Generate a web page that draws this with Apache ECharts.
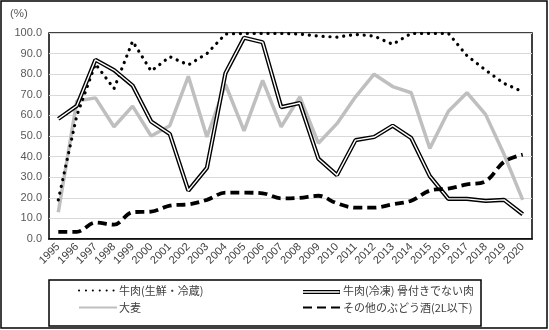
<!DOCTYPE html>
<html>
<head>
<meta charset="utf-8">
<script src="https://cdn.jsdelivr.net/npm/echarts@6/dist/echarts.min.js"></script>
<style>
  html, body { margin: 0; padding: 0; background: #fff; }
  #chart { width: 549px; height: 330px; }
</style>
</head>
<body>
<div id="chart"></div>
<script>
// Years on the category axis
const years = ['1995','1996','1997','1998','1999','2000','2001','2002','2003','2004','2005','2006','2007','2008','2009','2010','2011','2012','2013','2014','2015','2016','2017','2018','2019','2020'];

// Series names
const nameChilled = '牛肉(生鮮・冷蔵)';
const nameFrozen = '牛肉(冷凍) 骨付きでない肉';
const nameBarley = '大麦';
const nameWine = 'その他のぶどう酒(2L以下)';

// Values (%)
const chilledBeef = [19, 60, 85, 73, 96, 81.5, 88.5, 84.5, 90, 99.5, 99.8, 99.8, 99.8, 99.5, 98.5, 98, 99.3, 98.5, 94.5, 99.8, 99.8, 99.8, 89, 82, 75.5, 71.5];
const frozenBeef = [58.3, 64.7, 87, 82, 74.5, 57, 51, 23.5, 34.5, 80.5, 97.7, 95.5, 64, 66, 39, 31, 48, 49.5, 55, 49, 30.5, 19.5, 19.5, 18.5, 19, 12];
const barley = [13, 67, 68.5, 54.5, 64.5, 50, 55, 79, 49.5, 75, 52.5, 77, 54.5, 69, 46.5, 56, 69, 80, 74, 71, 44, 62, 71, 60.5, 41, 19];
const wine = [3.5, 3.5, 8, 7, 13, 13.3, 16.2, 16.8, 19, 22.5, 22.5, 22.2, 19.7, 20, 21, 17.3, 15.2, 15.2, 16.8, 18.6, 23.5, 24.5, 26.5, 28, 37.5, 41];

// Y axis range
const yMin = 0, yMax = 100, yStep = 10;

const chart = echarts.init(document.getElementById('chart'), null, { renderer: 'canvas' });

const labelFont = 'Liberation Sans, Arial, sans-serif';
const cjkFont = '"Noto Sans CJK JP", sans-serif';

// Legend entries draw only the line part of the icon (no centre symbol)
const hideSymbol = { opacity: 0 };

const legendCommon = {
  orient: 'vertical',
  itemWidth: 38,
  itemHeight: 5,
  itemGap: 6,
  padding: 0,
  textStyle: { fontFamily: cjkFont, fontSize: 11, color: '#404040', padding: [0, 0, 0, -3] },
  selectedMode: false
};

// Key of the double-stroke series, drawn as two stacked lines
const keyX1 = 303, keyX2 = 340, keyY = 292;

chart.setOption({
  animation: false,
  backgroundColor: '#fff',
  grid: {
    left: 49, right: 17, top: 33, bottom: 91,
    show: true, borderColor: '#000', borderWidth: 1.5, backgroundColor: 'transparent'
  },
  graphic: [
    // outer frame
    { type: 'rect', shape: { x: 1, y: 1, width: 546, height: 327 }, style: { fill: 'none', stroke: '#000', lineWidth: 1.5 }, z: 100 },
    // legend box
    { type: 'rect', shape: { x: 49, y: 280, width: 432, height: 46 }, style: { fill: 'none', stroke: '#000', lineWidth: 1.5 }, z: 100 },
    { type: 'line', shape: { x1: keyX1, y1: keyY, x2: keyX2, y2: keyY }, style: { stroke: '#000', lineWidth: 4.2 }, z: 200 },
    { type: 'line', shape: { x1: keyX1, y1: keyY, x2: keyX2 - 0.5, y2: keyY }, style: { stroke: '#fff', lineWidth: 1.4 }, z: 201 }
  ],
  title: {
    text: '(%)', left: 10, top: 8, padding: 0,
    textStyle: { fontFamily: labelFont, fontSize: 11.5, fontWeight: 'normal', color: '#595959' }
  },
  legend: [
    Object.assign({}, legendCommon, {
      left: 78, top: 285,
      data: [
        { name: nameChilled, itemStyle: hideSymbol },
        { name: nameBarley, itemStyle: hideSymbol }
      ]
    }),
    Object.assign({}, legendCommon, {
      left: 302, top: 285,
      data: [
        { name: nameFrozen, itemStyle: hideSymbol, lineStyle: { opacity: 0 } },
        { name: nameWine, itemStyle: hideSymbol }
      ]
    })
  ],
  xAxis: {
    type: 'category',
    data: years,
    boundaryGap: true,
    axisLine: { show: true, lineStyle: { color: '#000', width: 1.5 } },
    axisTick: { show: false },
    axisLabel: { rotate: 45, fontFamily: labelFont, fontSize: 11, color: '#404040', margin: 6, interval: 0 }
  },
  yAxis: {
    type: 'value',
    min: yMin, max: yMax, interval: yStep,
    axisLine: { show: false },
    axisTick: { show: false },
    splitLine: { lineStyle: { color: '#d9d9d9', width: 1 } },
    axisLabel: {
      fontFamily: labelFont, fontSize: 11, color: '#595959', margin: 7,
      formatter: v => v.toFixed(1)
    }
  },
  series: [
    {
      name: nameBarley, type: 'line', data: barley, symbol: 'none',
      lineStyle: { color: '#bfbfbf', width: 3.5 }, z: 2
    },
    {
      name: nameChilled, type: 'line', data: chilledBeef, symbol: 'none',
      lineStyle: { color: '#000', width: 3.2, type: [0.1, 6.8], cap: 'round' }, z: 3
    },
    {
      name: nameFrozen, type: 'line', data: frozenBeef, symbol: 'none',
      lineStyle: { color: '#000', width: 4.2 }, z: 4
    },
    {
      name: 'frozen-inner', type: 'line', data: frozenBeef, symbol: 'none',
      lineStyle: { color: '#fff', width: 1.4 }, z: 5, silent: true
    },
    {
      name: nameWine, type: 'line', data: wine, symbol: 'none', smooth: 0.35,
      lineStyle: { color: '#000', width: 3.8, type: [9, 5] }, z: 6
    }
  ]
});
</script>
</body>
</html>
